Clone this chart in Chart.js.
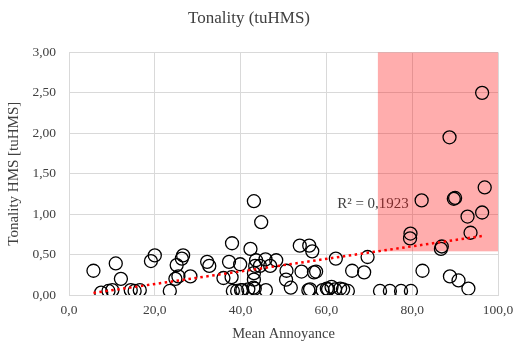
<!DOCTYPE html>
<html><head><meta charset="utf-8">
<script src="https://cdn.jsdelivr.net/npm/chart.js@4.4.1/dist/chart.umd.min.js"></script>
<style>html,body{margin:0;padding:0;background:#fff}#wrap{width:517px;height:343px}</style>
</head><body><div id="wrap"><canvas id="c" width="517" height="343"></canvas></div>
<script>
const annoyance = [5.7,10.9,12.1,7.5,9.2,10.1,14.4,15.3,16.5,19.1,20.0,26.6,26.3,25.1,25.5,24.8,28.3,23.5,32.2,32.7,38.0,37.3,36.0,37.9,39.9,38.2,39.2,40.1,40.4,43.1,44.8,42.3,43.6,45.8,48.3,43.4,44.5,46.9,43.1,43.1,43.0,43.3,45.9,41.8,50.7,50.6,51.7,53.8,56.0,56.7,54.2,57.1,57.6,55.8,56.2,59.1,60.4,62.2,69.6,66.0,68.8,61.2,62.0,63.2,63.9,65.0,60.1,72.5,74.8,77.4,79.7,96.3,88.7,96.9,82.2,89.7,90.0,96.3,92.9,93.6,79.6,79.5,86.9,86.7,82.4,88.8,90.8,93.1];
const tonality = [0.30,0.39,0.20,0.03,0.05,0.06,0.06,0.05,0.06,0.42,0.49,0.49,0.45,0.37,0.23,0.20,0.23,0.05,0.41,0.36,0.64,0.41,0.21,0.22,0.38,0.05,0.05,0.06,0.06,1.16,0.90,0.57,0.43,0.44,0.43,0.36,0.36,0.36,0.27,0.19,0.09,0.08,0.06,0.07,0.30,0.19,0.09,0.61,0.61,0.54,0.29,0.28,0.29,0.06,0.07,0.06,0.07,0.45,0.47,0.30,0.28,0.10,0.07,0.08,0.07,0.05,0.08,0.05,0.05,0.05,0.05,2.50,1.95,1.33,1.17,1.19,1.20,1.02,0.97,0.77,0.76,0.70,0.60,0.57,0.30,0.23,0.18,0.08];
const xTicks = [0,20,40,60,80,100];
const yTicks = [0,0.5,1.0,1.5,2.0,2.5,3.0];
const shadeX = [72,100];
const shadeY = [0.54,3.0];
const r2Label = "R\u00b2 = 0,1923";
const r2Pos = [62.5, 1.07];

// linear least-squares trendline from the data
const n = annoyance.length;
const mx = annoyance.reduce((a,b)=>a+b,0)/n, my = tonality.reduce((a,b)=>a+b,0)/n;
let sxy=0,sxx=0; for(let i=0;i<n;i++){sxy+=(annoyance[i]-mx)*(tonality[i]-my);sxx+=(annoyance[i]-mx)**2;}
const slope=sxy/sxx, icpt=my-slope*mx;
const xmin=Math.min(...annoyance), xmax=Math.max(...annoyance);
const trend=[{x:xmin,y:icpt+slope*xmin},{x:xmax,y:icpt+slope*xmax}];

const FONT = "'Liberation Serif', 'Times New Roman', serif";
const shadePlugin = {
  id:'shade',
  beforeDatasetsDraw(chart){
    const {ctx, scales:{x,y}} = chart;
    ctx.save(); ctx.font="15px "+FONT; ctx.fillStyle='#404040'; ctx.textBaseline='alphabetic';
    ctx.fillText(r2Label, x.getPixelForValue(r2Pos[0]), y.getPixelForValue(r2Pos[1]));
    const x0=x.getPixelForValue(shadeX[0]), x1=x.getPixelForValue(shadeX[1]);
    const y0=y.getPixelForValue(shadeY[1]), y1=y.getPixelForValue(shadeY[0]);
    ctx.fillStyle='rgba(255,0,0,0.32)'; ctx.fillRect(x0,y0,x1-x0,y1-y0); ctx.restore();
  }
};

new Chart(document.getElementById('c'),{
  type:'scatter',
  data:{datasets:[
    {data:annoyance.map((v,i)=>({x:v,y:tonality[i]})), pointRadius:6.5, pointHoverRadius:6.5, borderColor:'#000', backgroundColor:'rgba(0,0,0,0)', pointBorderWidth:1.3, order:2},
    {data:trend, showLine:true, pointRadius:0, borderColor:'#ff0000', borderWidth:2.5, borderDash:[2.5,3.5], order:1}
  ]},
  plugins:[shadePlugin],
  options:{
    responsive:false, animation:false, devicePixelRatio:1,
    layout:{padding:{left:0,right:19,top:0,bottom:0}},
    plugins:{legend:{display:false}, tooltip:{enabled:false},
      title:{display:true,text:'Tonality (tuHMS)',color:'#404040',font:{family:FONT,size:17,weight:'normal'},padding:{top:8,bottom:24}}},
    scales:{
      x:{type:'linear',min:0,max:100,
        afterBuildTicks(s){s.ticks=xTicks.map(v=>({value:v}));},
        ticks:{color:'#404040',font:{family:FONT,size:13.5},padding:7,callback:v=>v.toFixed(1).replace('.',',')},
        grid:{color:'#d9d9d9',drawTicks:false},border:{color:'#d9d9d9'},
        title:{display:true,text:'Mean Annoyance',color:'#404040',font:{family:FONT,size:14.5},padding:{top:3,bottom:0}},
        afterFit(s){s.height=48;s.paddingRight=0;s.paddingLeft=0;}},
      y:{type:'linear',min:0,max:3,
        afterBuildTicks(s){s.ticks=yTicks.map(v=>({value:v}));},
        ticks:{color:'#404040',font:{family:FONT,size:13.5},padding:13,callback:v=>v.toFixed(2).replace('.',',')},
        grid:{color:'#d9d9d9',drawTicks:false},border:{display:false},
        title:{display:true,text:'Tonality HMS [tuHMS]',color:'#404040',font:{family:FONT,size:15},padding:{top:5,bottom:6}},
        afterFit(s){s.width=69;s.paddingTop=0;s.paddingBottom=0;}}
    }
  }
});
</script></body></html>
